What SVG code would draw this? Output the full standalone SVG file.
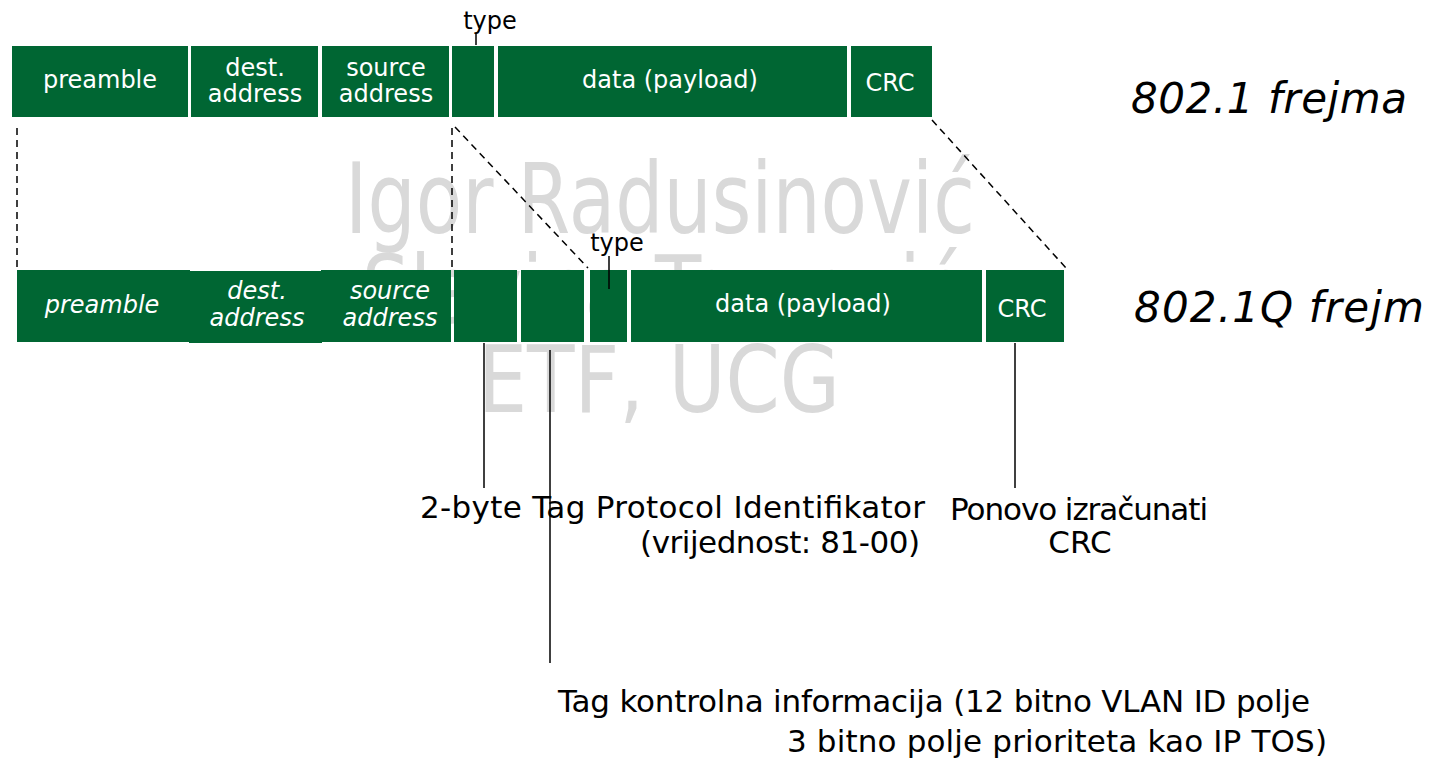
<svg xmlns="http://www.w3.org/2000/svg" width="1432" height="765" viewBox="0 0 1432 765">
<style>
.box{fill:#006633}
.bt{font-family:"DejaVu Sans","Liberation Sans",sans-serif;font-size:24px;fill:#ffffff;text-anchor:middle}
.it{font-style:italic}
.lbl{font-family:"DejaVu Sans","Liberation Sans",sans-serif;font-size:31px;fill:#000000}
.ty{font-family:"DejaVu Sans","Liberation Sans",sans-serif;font-size:24px;fill:#000000;text-anchor:middle}
.ttl{font-family:"DejaVu Sans","Liberation Sans",sans-serif;font-size:42px;font-style:italic;fill:#000000}
.wm{font-family:"DejaVu Sans","Liberation Sans",sans-serif;fill:#d9d9d9}
.dash{stroke:#000000;stroke-width:1.5;stroke-dasharray:7 5;fill:none}
.ln{stroke:#000000;stroke-width:1.5;fill:none}
</style>
<g id="watermark">
<text class="wm" x="345" y="233" font-size="98" textLength="630" lengthAdjust="spacingAndGlyphs">Igor Radusinović</text>
<text class="wm" x="362" y="323" font-size="94" textLength="600" lengthAdjust="spacingAndGlyphs">Slavica Tomović</text>
<text class="wm" x="478" y="412" font-size="92" textLength="362" lengthAdjust="spacingAndGlyphs">ETF, UCG</text>
</g>
<g id="connectors">
<line class="dash" x1="17" y1="128" x2="17" y2="268"/>
<line class="dash" x1="452" y1="128" x2="452" y2="268"/>
<line class="dash" x1="455" y1="127" x2="588" y2="268"/>
<line class="dash" x1="932" y1="120" x2="1066" y2="268"/>
<line class="ln" x1="476" y1="33" x2="476" y2="45"/>
<line class="ln" x1="484" y1="343" x2="484" y2="488"/>
<line class="ln" x1="550" y1="350" x2="550" y2="663"/>
<line class="ln" x1="1015" y1="343" x2="1015" y2="488"/>
</g>
<g id="frame-8021">
<g id="f1-preamble"><rect class="box" x="12" y="46" width="176" height="71"/><text class="bt" x="100" y="88">preamble</text></g>
<g id="f1-dest"><rect class="box" x="191" y="46" width="127" height="71"/><text class="bt" x="255" y="76">dest.</text><text class="bt" x="255" y="102">address</text></g>
<g id="f1-source"><rect class="box" x="322" y="46" width="127" height="71"/><text class="bt" x="386" y="76">source</text><text class="bt" x="386" y="102">address</text></g>
<g id="f1-type"><rect class="box" x="452" y="46" width="42" height="71"/><text class="ty" x="490" y="29">type</text></g>
<g id="f1-data"><rect class="box" x="498" y="46" width="349" height="71"/><text class="bt" x="670" y="88">data (payload)</text></g>
<g id="f1-crc"><rect class="box" x="851" y="46" width="81" height="71"/><text class="bt" x="890" y="91">CRC</text></g>
</g>
<g id="frame-8021q">
<g id="f2-preamble"><rect class="box" x="17" y="270" width="173" height="72"/><text class="bt it" x="102" y="313">preamble</text></g>
<g id="f2-dest"><rect class="box" x="189" y="271" width="133" height="72"/><text class="bt it" x="257" y="299">dest.</text><text class="bt it" x="257" y="326">address</text></g>
<g id="f2-source"><rect class="box" x="321" y="270" width="130" height="72"/><text class="bt it" x="390" y="299">source</text><text class="bt it" x="390" y="326">address</text></g>
<g id="f2-tpid"><rect class="box" x="454" y="270" width="63" height="72"/></g>
<g id="f2-tci"><rect class="box" x="521" y="270" width="63" height="72"/></g>
<g id="f2-type"><rect class="box" x="590" y="270" width="37" height="72"/><text class="ty" x="617" y="251">type</text><line class="ln" x1="609" y1="256" x2="609" y2="289"/></g>
<g id="f2-data"><rect class="box" x="631" y="270" width="351" height="72"/><text class="bt" x="803" y="312">data (payload)</text></g>
<g id="f2-crc"><rect class="box" x="986" y="270" width="78" height="72"/><text class="bt" x="1022" y="317">CRC</text></g>
</g>
<g id="titles">
<text class="ttl" x="1131" y="113" textLength="276">802.1 frejma</text>
<text class="ttl" x="1134" y="322" textLength="290">802.1Q frejm</text>
</g>
<g id="labels">
<text class="lbl" x="420" y="518" textLength="505">2-byte Tag Protocol Identifikator</text>
<text class="lbl" x="640" y="553" textLength="280">(vrijednost: 81-00)</text>
<text class="lbl" x="950" y="520" textLength="258">Ponovo izračunati</text>
<text class="lbl" x="1080" y="553" text-anchor="middle">CRC</text>
<text class="lbl" x="558" y="712" textLength="752">Tag kontrolna informacija (12 bitno VLAN ID polje</text>
<text class="lbl" x="787" y="752" textLength="540">3 bitno polje prioriteta kao IP TOS)</text>
</g>
</svg>
